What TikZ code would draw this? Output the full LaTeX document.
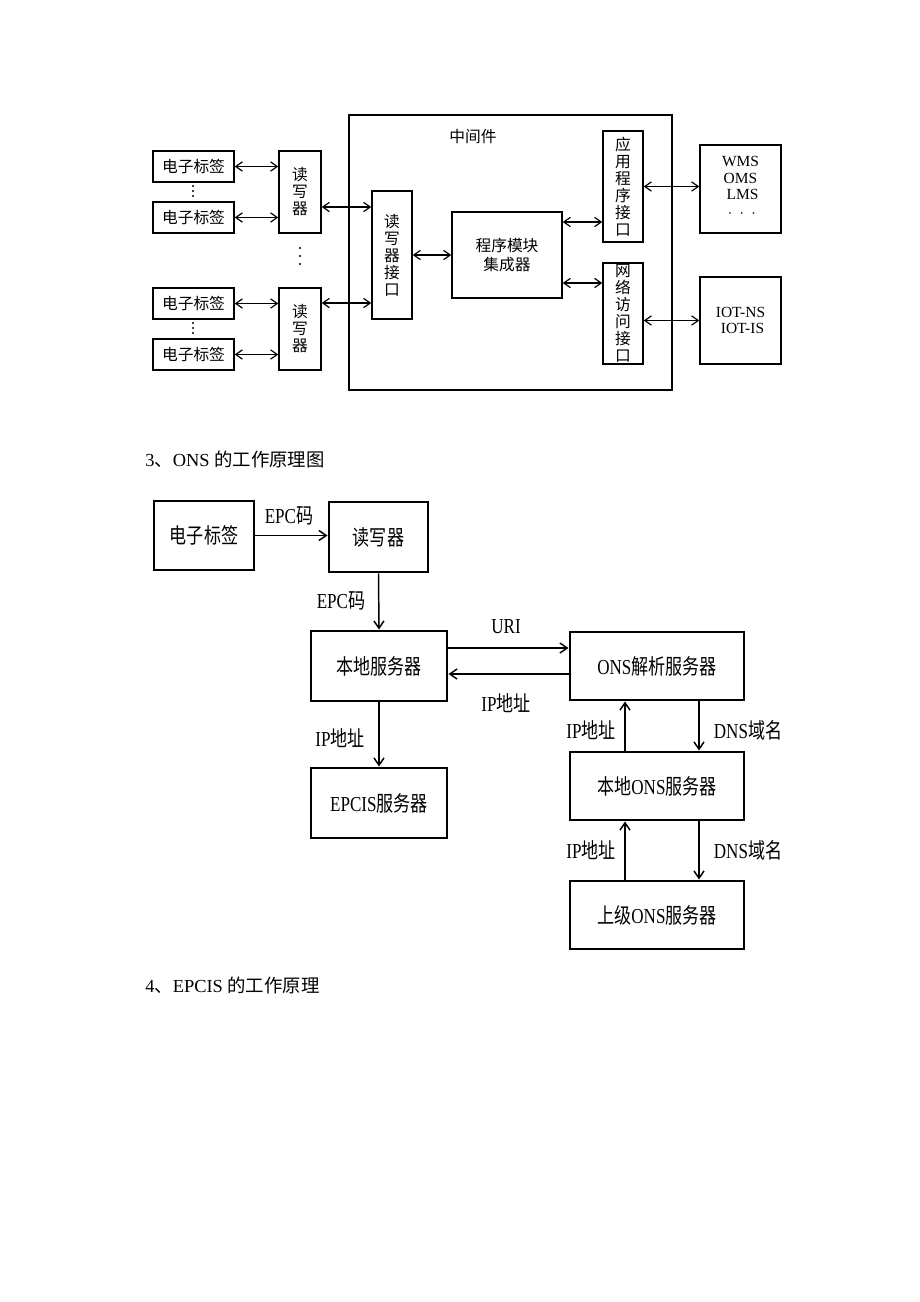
\documentclass[tikz,border=0pt]{standalone}
\usepackage{fontspec}
\setmainfont{Liberation Serif}
\newfontfamily\cjk{Noto Sans CJK SC}
\newfontfamily\cjkn{Noto Sans CJK SC}[FakeStretch=0.8]
\newfontfamily\sern{Liberation Serif}[FakeStretch=0.8]
\usetikzlibrary{arrows.meta}
\newcommand\zh[1]{{\cjk #1}}
\newcommand\zn[1]{{\cjkn #1}}
\newcommand\bx[7]{\node[#1, minimum width={(#5-#3)*0.75pt}, minimum height={(#6-#4)*0.75pt}] (#2) at ({(#3+#5)/2},{(#4+#6)/2}) {#7};}
\tikzset{
  tb/.style={draw, line width=1.1pt, inner sep=0pt, align=center, font=\fontsize{11.8}{12.75}\selectfont\cjk},
  tbl/.style={draw, line width=1.1pt, inner sep=0pt, align=center, font=\fontsize{11.6}{12.5}\selectfont},
  bb/.style={draw, line width=2.2pt, inner sep=0pt, align=center, font=\fontsize{16}{18}\selectfont\sern},
  darr/.style={{Straight Barb[length=5pt,width=7pt]}-{Straight Barb[length=5pt,width=7pt]}, line width=0.9pt},
  barr/.style={-{Straight Barb[length=5.5pt,width=7.5pt]}, line width=1.1pt},
  lbl/.style={font=\fontsize{16}{18}\selectfont\sern, inner sep=0pt},
  hdr/.style={font=\fontsize{13.8}{15}\selectfont, inner sep=0pt, anchor=west}
}
\begin{document}
\begin{tikzpicture}[x=0.75pt,y=-0.75pt]
\useasboundingbox[fill=white] (0,0) rectangle (920,1302);

% ---------- top diagram ----------
\bx{tbl}{mw}{349}{115}{672}{390}{}
\node[font=\fontsize{11.8}{12.5}\selectfont\cjk, inner sep=0pt] (mwl) at (473,137) {中间件};

\bx{tb}{tag1}{153}{151}{234}{182}{电子标签}
\bx{tb}{tag2}{153}{202}{234}{233}{电子标签}
\bx{tb}{tag3}{153}{288}{234}{319}{电子标签}
\bx{tb}{tag4}{153}{339}{234}{370}{电子标签}
\bx{tb}{rd1}{279}{151}{321}{233}{读\\写\\器}
\bx{tb}{rd2}{279}{288}{321}{370}{读\\写\\器}
\bx{tb}{rif}{372}{191}{412}{319}{读\\写\\器\\接\\口}
\bx{tb}{pm}{452}{212}{562}{298}{程序模块\\[1pt]集成器}
\bx{tb}{aif}{603}{131}{643}{242}{应\\用\\程\\序\\接\\口}
\bx{tb}{nif}{603}{263}{643}{364}{网\\络\\访\\问\\接\\口}
\bx{tbl}{wms}{700}{145}{781}{233}{WMS\\OMS\\\hspace*{3pt}LMS\\[0.5pt]\hspace*{2pt}$\cdot\ \cdot\ \cdot$\\[-9pt]\mbox{}}
\bx{tbl}{iot}{700}{277}{781}{364}{IOT-NS\\\hspace*{3pt}IOT-IS}

\foreach \yy in {186,191,196,323,328,333} \fill (193,\yy) circle (0.9pt);
\foreach \yy in {248,256,264} \fill (300,\yy) circle (0.9pt);

\draw[darr] (tag1.east) -- (tag1.east -| rd1.west);
\draw[darr] (tag2.east) -- (tag2.east -| rd1.west);
\draw[darr] (tag3.east) -- (tag3.east -| rd2.west);
\draw[darr] (tag4.east) -- (tag4.east -| rd2.west);
\draw[darr] ([yshift=-11.25pt]rd1.east) -- ([yshift=-11.25pt]rd1.east -| rif.west);
\draw[darr] ([yshift=19.5pt]rd2.east) -- ([yshift=19.5pt]rd2.east -| rif.west);
\draw[darr] (rif.east) -- (pm.west);
\draw[darr] ([yshift=24.75pt]pm.east) -- ([yshift=24.75pt]pm.east -| aif.west);
\draw[darr] ([yshift=-21pt]pm.east) -- ([yshift=-21pt]pm.east -| nif.west);
\draw[darr] (aif.east) -- (aif.east -| wms.west);
\draw[darr] (nif.east |- iot.west) -- (iot.west);

% ---------- headers ----------
\node[hdr] (h3) at (145,459) {3\zh{、}ONS \zh{的工作原理图}};
\node[hdr] (h4) at (145,985) {4\zh{、}EPCIS \zh{的工作原理}};

% ---------- bottom diagram ----------
\bx{bb}{tag}{154}{501}{254}{570}{\zn{电子标签}}
\bx{bb}{rd}{329}{502}{428}{572}{\zn{读写器}}
\bx{bb}{ls}{311}{631}{447}{701}{\zn{本地服务器}}
\bx{bb}{ep}{311}{768}{447}{838}{EPCIS\zn{服务器}}
\bx{bb}{ons}{570}{632}{744}{700}{ONS\zn{解析服务器}}
\bx{bb}{lons}{570}{752}{744}{820}{\zn{本地}ONS\zn{服务器}}
\bx{bb}{uons}{570}{881}{744}{949}{\zn{上级}ONS\zn{服务器}}

\draw[barr] (tag.east) -- (tag.east -| rd.west);
\draw[barr] (rd.south) -- (ls.north);
\draw[barr] (ls.south) -- (ep.north);
\draw[barr] ([yshift=13.5pt]ls.east) -- ([yshift=13.5pt]ls.east -| ons.west);
\draw[barr] ([yshift=-6pt]ons.west) -- ([yshift=-6pt]ons.west -| ls.east);
\draw[barr] ([xshift=-24pt]lons.north) -- ([xshift=-24pt]ons.south);
\draw[barr] ([xshift=31.5pt]ons.south) -- ([xshift=31.5pt]lons.north);
\draw[barr] ([xshift=-24pt]uons.north) -- ([xshift=-24pt]lons.south);
\draw[barr] ([xshift=31.5pt]lons.south) -- ([xshift=31.5pt]uons.north);

\node[lbl] (l1) at (289,516) {EPC\zn{码}};
\node[lbl] (l2) at (341,601) {EPC\zn{码}};
\node[lbl] (l3) at (340,738) {IP\zn{地址}};
\node[lbl] (l4) at (506,627) {URI};
\node[lbl] (l5) at (506,703) {IP\zn{地址}};
\node[lbl] (l6) at (591,730) {IP\zn{地址}};
\node[lbl] (l7) at (748,730) {DNS\zn{域名}};
\node[lbl] (l8) at (591,850) {IP\zn{地址}};
\node[lbl] (l9) at (748,850) {DNS\zn{域名}};
\end{tikzpicture}
\end{document}
